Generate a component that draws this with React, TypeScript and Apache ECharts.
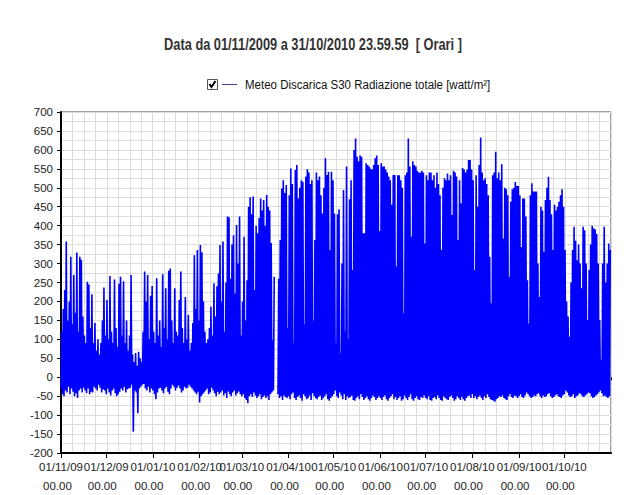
import React, { useEffect, useRef } from "react";
import * as echarts from "echarts";

const titleText = "Data da 01/11/2009 a 31/10/2010 23.59.59  [ Orari ]";
const legendText = "Meteo Discarica S30 Radiazione totale [watt/m²]";
const monthLabels = ["01/11/09", "01/12/09", "01/01/10", "01/02/10", "01/03/10", "01/04/10", "01/05/10", "01/06/10", "01/07/10", "01/08/10", "01/09/10", "01/10/10"];
const hourLabel = "00.00";
const monthDays = [30, 31, 31, 28, 31, 30, 31, 30, 31, 31, 30, 31];

// daily maxima (watt/m²), one value per day
const peakNov = [120, 180, 230, 358, 150, 200, 318, 140, 270, 170, 329, 120, 318, 310, 160, 110, 90, 252, 245, 130, 219, 90, 143, 70, 100, 60, 90, 150, 237, 110];
const peakDec = [204, 100, 267, 120, 90, 258, 130, 80, 247, 265, 110, 253, 90, 150, 70, 110, 270, 60, 40, 64, 30, 67, 50, 40, 120, 279, 200, 270, 100, 215, 241];
const peakJan = [120, 90, 261, 110, 150, 80, 272, 130, 235, 100, 281, 287, 150, 90, 235, 120, 110, 204, 279, 130, 90, 212, 100, 165, 70, 90, 143, 322, 180, 336, 150];
const peakFeb = [349, 330, 200, 120, 90, 100, 130, 186, 110, 248, 160, 240, 274, 349, 200, 358, 120, 250, 424, 422, 260, 350, 375, 220, 402, 300, 424, 110];
const peakMar = [200, 371, 150, 256, 450, 475, 430, 477, 230, 400, 380, 420, 472, 440, 468, 400, 481, 450, 440, 354, 98, 265, null, null, 260, 362, 498, 520, 486, 507, 130];
const peakApr = [480, 551, 510, 90, 547, 560, 472, 500, 520, 516, 140, 530, 549, 540, 510, 520, 150, 362, 540, 520, 530, 480, 432, 500, 578, 534, 542, 336, 542, 520];
const peakMay = [432, 90, 430, 443, 63, 300, 494, 120, 556, 100, 470, 520, 283, 600, 630, 582, 570, 585, 582, 380, 380, 565, 560, 556, 550, 548, 560, 578, 585, 560, 386];
const peakJun = [565, 556, 556, 548, 540, 530, 520, 455, 534, 534, 292, 533, 533, 520, 500, 169, 533, 540, 630, 556, 371, 570, 560, 556, 545, 540, 540, 545, 540, 353];
const peakJul = [533, 520, 540, 540, 520, 533, 500, 540, 510, 480, 336, 500, 525, 520, 538, 520, 533, 428, 545, 540, 530, 362, 520, 459, 552, 548, 540, 548, 573, 573, 548];
const peakAug = [520, 283, 533, 450, 560, 633, 540, 520, 525, 510, 480, 318, 195, 533, 540, 595, 525, 540, 520, 562, 366, 500, 496, 480, 265, 463, 496, 500, 515, 505, 505];
const peakSep = [480, 344, 472, 472, 424, 256, 142, 480, 512, 490, 490, 490, 300, 212, 450, 440, 331, 468, 500, 529, 468, 430, 336, 455, 440, 450, 463, 480, 496, 450];
const peakOct = [336, 200, 160, 107, 250, 336, 397, 360, 309, 350, 300, 235, 397, 388, 300, 151, 283, 350, 400, 393, 390, 378, 300, 151, 45, 300, 397, 250, 300, 353, 336];

// daily (night) minima
const lowNov = [-30, -45, -50, -35, -40, -25, -45, -30, -38, -50, -42, -55, -35, -30, -40, -28, -35, -42, -30, -45, -38, -40, -25, -30, -35, -20, -28, -40, -32, -35];
const lowDec = [-45, -30, -40, -48, -35, -30, -42, -50, -45, -38, -30, -35, -25, -40, -32, -30, -28, -20, -144, -35, -40, -95, -30, -25, -20, -18, -30, -35, -25, -40, -30];
const lowJan = [-35, -45, -58, -40, -30, -28, -35, -42, -30, -25, -38, -45, -30, -20, -25, -35, -28, -22, -30, -40, -35, -25, -30, -28, -20, -25, -30, -35, -40, -45, -38];
const lowFeb = [-67, -50, -45, -40, -35, -30, -45, -40, -28, -35, -42, -50, -38, -45, -40, -35, -48, -42, -55, -38, -45, -50, -40, -35, -48, -42, -38, -45];
const lowMar = [-50, -45, -55, -60, -69, -50, -45, -52, -40, -48, -55, -50, -45, -58, -52, -48, -55, -50, -60, -45, -40, -35, null, null, -45, -55, -50, -60, -48, -52, -55];
const lowApr = [-50, -58, -45, -40, -55, -60, -52, -48, -55, -62, -45, -50, -58, -55, -48, -60, -42, -50, -55, -58, -52, -48, -60, -55, -50, -45, -58, -62, -55, -50];
const lowMay = [-45, -35, -50, -55, -40, -48, -58, -45, -60, -50, -55, -52, -48, -60, -62, -55, -50, -58, -45, -52, -60, -55, -50, -58, -62, -55, -48, -52, -60, -55, -50];
const lowJun = [-55, -60, -52, -48, -58, -62, -55, -50, -45, -58, -52, -60, -55, -50, -62, -58, -48, -55, -60, -52, -45, -58, -62, -55, -50, -58, -60, -52, -55, -48];
const lowJul = [-55, -58, -50, -60, -62, -55, -52, -58, -48, -55, -60, -62, -50, -55, -58, -60, -52, -48, -55, -62, -58, -50, -55, -60, -52, -58, -62, -55, -50, -48, -55];
const lowAug = [-45, -55, -50, -58, -52, -48, -55, -60, -50, -55, -45, -52, -58, -60, -62, -65, -58, -55, -50, -52, -48, -55, -58, -60, -50, -45, -52, -55, -48, -50, -55];
const lowSep = [-50, -45, -52, -55, -48, -40, -45, -50, -55, -52, -48, -50, -45, -42, -50, -55, -48, -52, -50, -45, -42, -50, -55, -52, -48, -45, -50, -52, -55, -48];
const lowOct = [-45, -35, -40, -48, -52, -50, -45, -55, -50, -48, -42, -45, -50, -52, -48, -45, -40, -42, -50, -55, -52, -48, -45, -40, -35, -42, -50, -48, -52, -55, -50];

const peaks = [peakNov, peakDec, peakJan, peakFeb, peakMar, peakApr, peakMay, peakJun, peakJul, peakAug, peakSep, peakOct];
const lows = [lowNov, lowDec, lowJan, lowFeb, lowMar, lowApr, lowMay, lowJun, lowJul, lowAug, lowSep, lowOct];

const FONT = '"Liberation Sans", Arial, sans-serif';

function monthStarts(): number[] {
  const s: number[] = [];
  let acc = 0;
  for (const n of monthDays) {
    s.push(acc);
    acc += n;
  }
  return s;
}

function buildData(): any[] {
  const data: any[] = [];
  const starts = monthStarts();
  for (let m = 0; m < 12; m++) {
    const p = peaks[m];
    const l = lows[m];
    for (let i = 0; i < p.length; i++) {
      const d = starts[m] + i;
      data.push([d, l[i] == null ? "-" : l[i]]);
      data.push([d + 0.5, p[i] == null ? "-" : p[i]]);
    }
  }
  return data;
}

export default function App() {
  const ref = useRef<HTMLDivElement>(null);
  useEffect(() => {
    if (!ref.current) return;
    const chart = echarts.init(ref.current, undefined, { renderer: "svg" });
    const starts = monthStarts();
    const total = monthDays.reduce((a, b) => a + b, 0);
    const gridColor = "#dcdcdc";
    chart.setOption({
      animation: false,
      backgroundColor: "#ffffff",
      grid: {
        left: 61,
        right: 16,
        top: 112,
        bottom: 42,
        show: true,
        borderColor: "#444444",
        borderWidth: 1,
        backgroundColor: "transparent",
      },
      xAxis: [
        {
          type: "value",
          min: 0,
          max: total,
          position: "bottom",
          z: 5,
          axisLine: { show: true, onZero: false, lineStyle: { color: "#000", width: 2 } },
          axisTick: { show: true, customValues: starts, length: 5, lineStyle: { color: "#000" } },
          axisLabel: {
            show: true,
            customValues: starts,
            showMinLabel: true,
            showMaxLabel: true,
            hideOverlap: false,
            margin: 4,
            formatter: (v: number) => {
              const idx = starts.indexOf(Math.round(v));
              return idx < 0 ? "" : `{a|${monthLabels[idx]}}\n{b|${hourLabel}}`;
            },
            rich: {
              a: { fontFamily: FONT, fontSize: 11.5, color: "#222", lineHeight: 19 },
              b: { fontFamily: FONT, fontSize: 11.5, color: "#222", lineHeight: 19, align: "left", padding: [0, 0, 0, 4] },
            },
          },
          splitLine: { show: false },
        },
        {
          type: "value",
          min: 0,
          max: total,
          interval: total / 48,
          position: "bottom",
          axisLine: { show: false },
          axisTick: { show: true, length: 3, lineStyle: { color: "#000" } },
          axisLabel: { show: false },
          splitLine: { show: true, lineStyle: { color: gridColor, width: 1 } },
        },
      ],
      yAxis: {
        type: "value",
        min: -200,
        max: 700,
        interval: 50,
        axisLine: { show: true, onZero: false, lineStyle: { color: "#000", width: 2 } },
        axisTick: { show: true, length: 4, lineStyle: { color: "#000" } },
        axisLabel: { fontFamily: FONT, fontSize: 11.5, color: "#222", margin: 8 },
        splitLine: { show: true, lineStyle: { color: gridColor, width: 1 } },
        minorTick: { show: false, splitNumber: 2 },
        minorSplitLine: { show: true, lineStyle: { color: gridColor, width: 1 } },
      },
      series: [
        {
          type: "line",
          name: legendText,
          data: buildData(),
          xAxisIndex: 0,
          symbol: "none",
          showSymbol: false,
          connectNulls: false,
          lineStyle: { color: "#0000ff", width: 1.6 },
          itemStyle: { color: "#0000ff" },
          z: 3,
        },
      ],
      graphic: [
        {
          type: "text",
          x: 313,
          y: 44,
          scaleX: 0.8,
          style: {
            text: titleText,
            fontFamily: FONT,
            fontWeight: "bold",
            fontSize: 16,
            fill: "#333333",
            align: "center",
            verticalAlign: "middle",
          },
        },
        {
          type: "rect",
          shape: { x: 207.5, y: 79.5, width: 10, height: 10 },
          style: { fill: "#fff", stroke: "#555", lineWidth: 1 },
        },
        {
          type: "polyline",
          shape: { points: [[209.5, 84], [211.5, 87], [215.5, 81]] },
          style: { fill: "none", stroke: "#000", lineWidth: 2 },
        },
        {
          type: "line",
          shape: { x1: 222, y1: 84.5, x2: 237, y2: 84.5 },
          style: { stroke: "#3c3c9c", lineWidth: 1 },
        },
        {
          type: "text",
          x: 245,
          y: 84.5,
          scaleX: 0.92,
          style: {
            text: legendText,
            fontFamily: FONT,
            fontSize: 12.5,
            fill: "#111",
            align: "left",
            verticalAlign: "middle",
          },
        },
      ],
    });
    return () => chart.dispose();
  }, []);
  return (
    <div
      ref={ref}
      style={{ position: "fixed", left: 0, top: 0, width: 627, height: 495, background: "#fff" }}
    />
  );
}
